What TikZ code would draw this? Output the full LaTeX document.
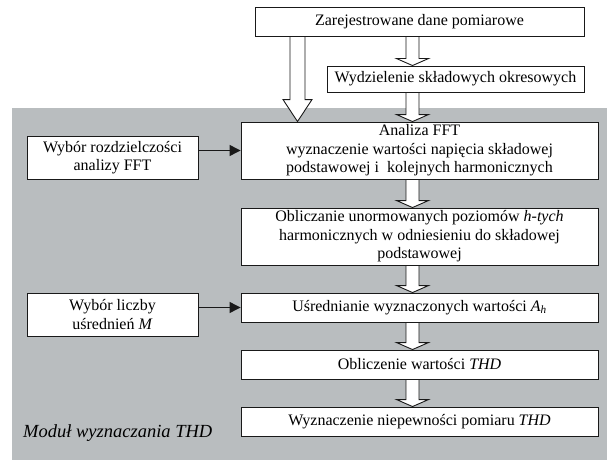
\documentclass[tikz,border=0pt]{standalone}
\usepackage{fontspec}
\setmainfont{Liberation Serif}
\usetikzlibrary{calc,arrows.meta}
\pgfdeclarelayer{bg}
\pgfsetlayers{bg,main}
\definecolor{modgray}{RGB}{185,189,191}
\definecolor{edge}{RGB}{25,25,25}
\tikzset{
  box/.style={draw=edge, line width=0.9pt, fill=white, inner sep=0pt, align=center,
    font=\fontsize{16}{18.5}\selectfont},
  barrow/.style={draw=edge, line width=0.9pt, fill=white, line join=miter},
  linkarrow/.style={draw=edge, line width=1.2pt, -{Triangle[length=11pt,width=11pt]}},
  modlabel/.style={anchor=base west, inner sep=0pt, font=\fontsize{18.5}{20}\selectfont\itshape},
}
\newcommand\blockarr[5]{%
  \coordinate (ba-s) at (#1);
  \coordinate (ba-t) at (#2);
  \draw[barrow] ($(ba-s)+(-#3,0)$) -- ($(ba-t)+(-#3,-#5)$) -- ($(ba-t)+(-#4,-#5)$)
    -- (ba-t) -- ($(ba-t)+(#4,-#5)$) -- ($(ba-t)+(#3,-#5)$) -- ($(ba-s)+(#3,0)$);}
\begin{document}
\begin{tikzpicture}[x=1pt,y=-1pt]
\useasboundingbox (0,0) rectangle (607,460);
% boxes
\node[box, minimum width=329pt, minimum height=29pt] (top) at (419.5,21.5) {Zarejestrowane dane pomiarowe};
\node[box, minimum width=257pt, minimum height=26pt] (wyd) at (455.5,79) {Wydzielenie składowych okresowych};
\node[box, minimum width=357pt, minimum height=57pt] (fft) at (419.5,150.5) {Analiza FFT\\wyznaczenie wartości napięcia składowej\\podstawowej i\ \ kolejnych harmonicznych};
\node[box, minimum width=357pt, minimum height=57pt] (obl) at (419.5,236.5) {Obliczanie unormowanych poziomów \textit{h-tych}\\harmonicznych w odniesieniu do składowej\\podstawowej};
\node[box, minimum width=357pt, minimum height=29pt] (usr) at (419.5,307.5) {Uśrednianie wyznaczonych wartości \textit{A}\textsubscript{\textit{h}}};
\node[box, minimum width=357pt, minimum height=29pt] (thd) at (419.5,364.5) {Obliczenie wartości \textit{THD}};
\node[box, minimum width=357pt, minimum height=29pt] (nie) at (419.5,421.5) {Wyznaczenie niepewności pomiaru \textit{THD}};
\node[box, minimum width=171pt, minimum height=43pt] (wr) at (112.5,157.5) {Wybór rozdzielczości\\analizy FFT};
\node[box, minimum width=171pt, minimum height=43pt] (wl) at (112.5,314.5) {Wybór liczby\\uśrednień \textit{M}};
\node[modlabel] (mod) at (23,437) {Moduł wyznaczania THD};
\coordinate (ax) at (412.5,0);
\coordinate (bx) at (297.5,0);
\begin{pgfonlayer}{bg}
  \fill[modgray] (12,108) rectangle (607,460);
  \blockarr{bx |- top.south}{bx |- fft.north}{7.5}{14.5}{22}
  \blockarr{ax |- top.south}{ax |- wyd.north}{6.5}{16}{7}
  \blockarr{ax |- wyd.south}{ax |- fft.north}{6.5}{16}{7}
  \blockarr{ax |- fft.south}{ax |- obl.north}{6.5}{16}{7}
  \blockarr{ax |- obl.south}{ax |- usr.north}{6.5}{16}{7}
  \blockarr{ax |- usr.south}{ax |- thd.north}{6.5}{16}{7}
  \blockarr{ax |- thd.south}{ax |- nie.north}{6.5}{16}{7}
\end{pgfonlayer}
\draw[linkarrow] (wr.east |- fft.west) -- (fft.west);
\draw[linkarrow] (wl.east |- usr.west) -- (usr.west);
\end{tikzpicture}
\end{document}
